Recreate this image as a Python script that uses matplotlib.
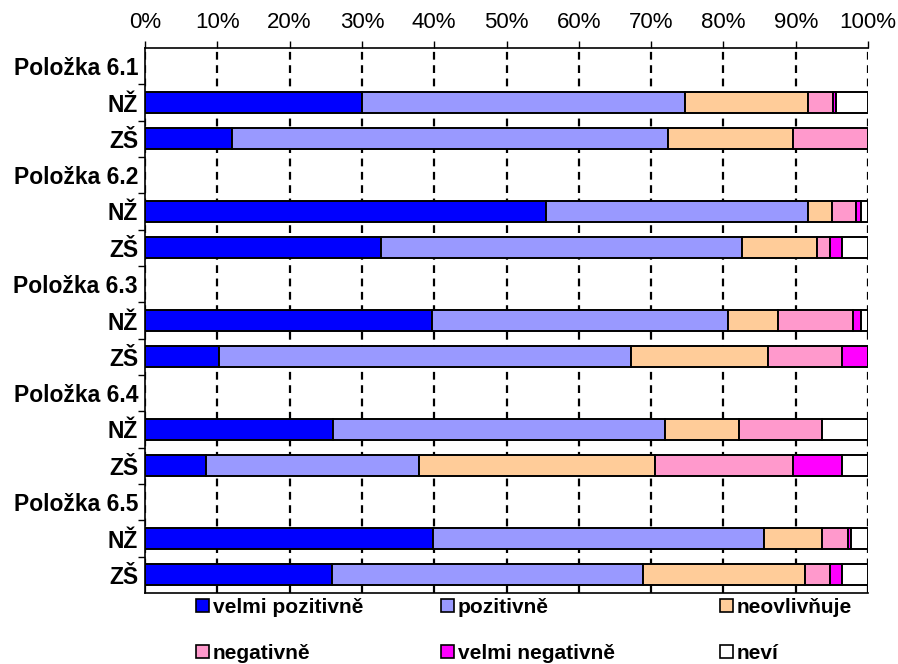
import matplotlib
matplotlib.use("Agg")
import matplotlib.pyplot as plt
import numpy as np

plt.rcParams['font.family'] = ['Liberation Sans', 'DejaVu Sans']

# Row labels from top to bottom (headers carry no bar)
row_labels = ["Položka 6.1", "NŽ", "ZŠ",
              "Položka 6.2", "NŽ", "ZŠ",
              "Položka 6.3", "NŽ", "ZŠ",
              "Položka 6.4", "NŽ", "ZŠ",
              "Položka 6.5", "NŽ", "ZŠ"]

series_names = ["velmi pozitivně", "pozitivně", "neovlivňuje",
                "negativně", "velmi negativně", "neví"]
series_colors = ["#0000FF", "#9999FF", "#FFCC99", "#FF99CC", "#FF00FF", "#FFFFFF"]

# Percent shares per row; header rows are None
velmi_pozitivne = [None, 30.0, 12.0, None, 55.4, 32.7, None, 39.7, 10.2, None, 26.0, 8.5, None, 39.8, 25.9]
pozitivne       = [None, 44.7, 60.3, None, 36.3, 49.9, None, 41.0, 57.0, None, 45.9, 29.4, None, 45.8, 43.0]
neovlivnuje     = [None, 17.0, 17.3, None, 3.3, 10.4, None, 6.9, 18.9, None, 10.2, 32.7, None, 8.1, 22.4]
negativne       = [None, 3.4, 10.4, None, 3.4, 1.7, None, 10.3, 10.3, None, 11.6, 19.0, None, 3.5, 3.4]
velmi_negativne = [None, 0.5, 0.0, None, 0.6, 1.7, None, 1.1, 3.6, None, 0.0, 6.8, None, 0.5, 1.7]
nevi            = [None, 4.4, 0.0, None, 1.0, 3.6, None, 1.0, 0.0, None, 6.3, 3.6, None, 2.3, 3.6]

series = [velmi_pozitivne, pozitivne, neovlivnuje, negativne, velmi_negativne, nevi]

fig = plt.figure(figsize=(8.98, 6.64), dpi=100)
ax = fig.add_axes([145 / 898, 1 - 593 / 664, (868 - 145) / 898, (593 - 48) / 664])

n = len(row_labels)
ypos = np.arange(n)
bar_idx = [i for i in range(n) if velmi_pozitivne[i] is not None]

left = np.zeros(len(bar_idx))
handles = []
for vals, name, col in zip(series, series_names, series_colors):
    v = np.array([vals[i] for i in bar_idx], dtype=float)
    h = ax.barh([ypos[i] for i in bar_idx], v, left=left, height=0.57,
                color=col, edgecolor="black", linewidth=1.4, label=name, zorder=3)
    handles.append(h)
    left += v

ax.set_xlim(0, 100)
ax.set_ylim(n - 0.5, -0.5)

# x axis on top, dashed grid at every 10 %
ax.set_xticks(np.arange(0, 101, 10))
ax.set_xticklabels([f"{t}%" for t in range(0, 101, 10)], fontsize=16)
ax.xaxis.tick_top()
ax.tick_params(axis="x", which="major", direction="out", length=5, width=1,
               pad=6, bottom=False, top=True)
ax.grid(axis="x", color="black", linestyle=(0, (3.5, 2.5)), linewidth=1.6, zorder=1)
ax.set_axisbelow(True)

# y labels at row centers, small ticks at row boundaries
ax.set_yticks(ypos)
ax.set_yticklabels(row_labels, fontsize=16.5, fontweight="bold")
ax.tick_params(axis="y", which="major", length=0, pad=5)
ax.set_yticks(np.arange(0.5, n - 1, 1.0), minor=True)
ax.tick_params(axis="y", which="minor", length=5, width=1, direction="out")

for side in ["top", "bottom", "left"]:
    ax.spines[side].set_linewidth(1.2)
ax.spines["right"].set_visible(False)

# legend laid out as three columns of two entries each
legend_cols = [[0, 3], [1, 4], [2, 5]]
legend_x = [196, 441, 720]
for col_items, x0 in zip(legend_cols, legend_x):
    leg = fig.legend(handles=[handles[i] for i in col_items],
                     labels=[series_names[i] for i in col_items], ncol=1,
                     loc="upper left", bbox_to_anchor=(x0 / 898, 1 - 598 / 664),
                     frameon=False, prop={"size": 15, "weight": "bold"},
                     handlelength=0.6, handleheight=0.6, handletextpad=0.2,
                     labelspacing=1.3, borderaxespad=0, borderpad=0)
    for p in leg.get_patches():
        p.set_linewidth(1.2)

fig.savefig("out.png", dpi=100)
